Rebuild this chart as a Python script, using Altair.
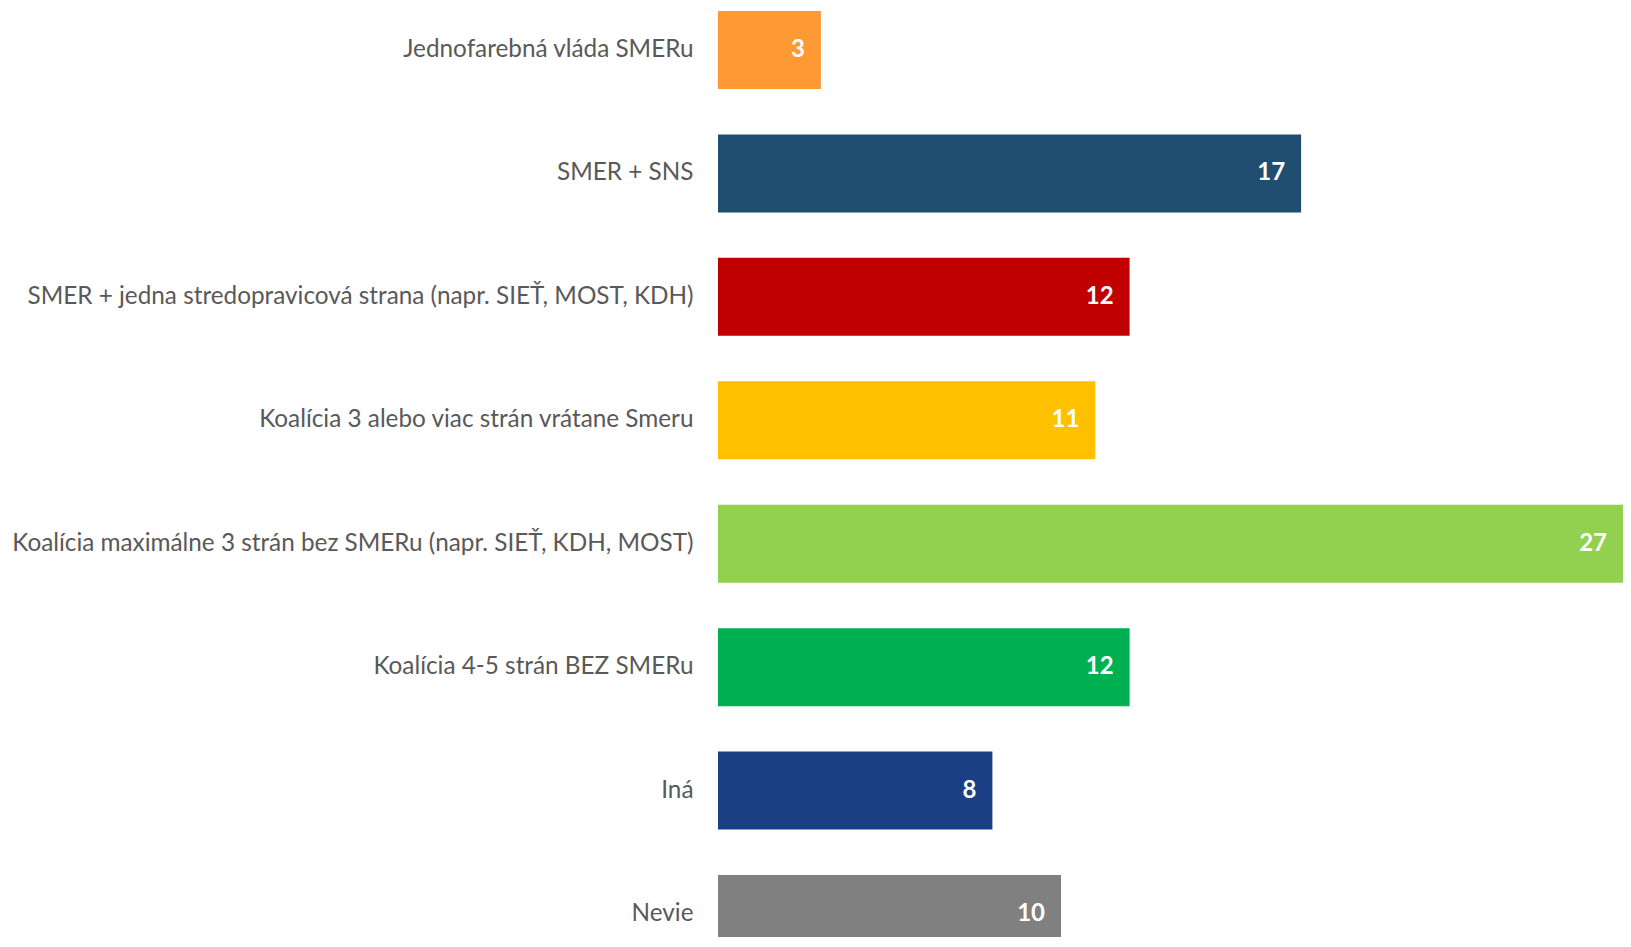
import altair as alt
import pandas as pd

categories = [
    "Jednofarebná vláda SMERu",
    "SMER + SNS",
    "SMER + jedna stredopravicová strana (napr. SIEŤ, MOST, KDH)",
    "Koalícia 3 alebo viac strán vrátane Smeru",
    "Koalícia maximálne 3 strán bez SMERu (napr. SIEŤ, KDH, MOST)",
    "Koalícia 4-5 strán BEZ SMERu",
    "Iná",
    "Nevie",
]
values = [3, 17, 12, 11, 27, 12, 8, 10]
colors = ["#FF9933", "#1F4E70", "#C00000", "#FFC000", "#92D050", "#00B050", "#1B3F84", "#808080"]

df = pd.DataFrame({"cat": categories, "val": values, "col": colors})

FONT = "Lato"
LEFT = 710
W = 1631 - 16 - LEFT
H = 929
XMAX = W / 34.3

y = alt.Y("cat:N", sort=categories,
          scale=alt.Scale(paddingInner=0.368, paddingOuter=0.0243, range=[0, 948]),
          axis=alt.Axis(title=None, domain=False, ticks=False, labelPadding=25,
                        labelFontSize=24.3, labelFont=FONT, labelColor="#595959",
                        labelLimit=0))

bars = alt.Chart(df).mark_bar(clip=True).encode(
    x=alt.X("val:Q", scale=alt.Scale(domain=[0, XMAX], nice=False, zero=True), axis=None),
    y=y,
    color=alt.Color("col:N", scale=None),
)
labels = alt.Chart(df).mark_text(align="right", baseline="middle", dx=-16,
                                 font=FONT, fontSize=24, fontWeight="bold",
                                 color="white").encode(
    x=alt.X("val:Q", scale=alt.Scale(domain=[0, XMAX], nice=False, zero=True, clamp=True),
            axis=None),
    y=y,
    text="val:Q",
)

chart = (bars + labels).resolve_scale(x="independent").properties(
    width=W, height=H,
    autosize=alt.AutoSizeParams(type="none"),
    padding={"left": LEFT, "top": 0, "right": 0, "bottom": 0},
).configure(background="white").configure_view(stroke=None, strokeWidth=0)

chart.save("out.html", embed_options={"renderer": "svg", "actions": False})
